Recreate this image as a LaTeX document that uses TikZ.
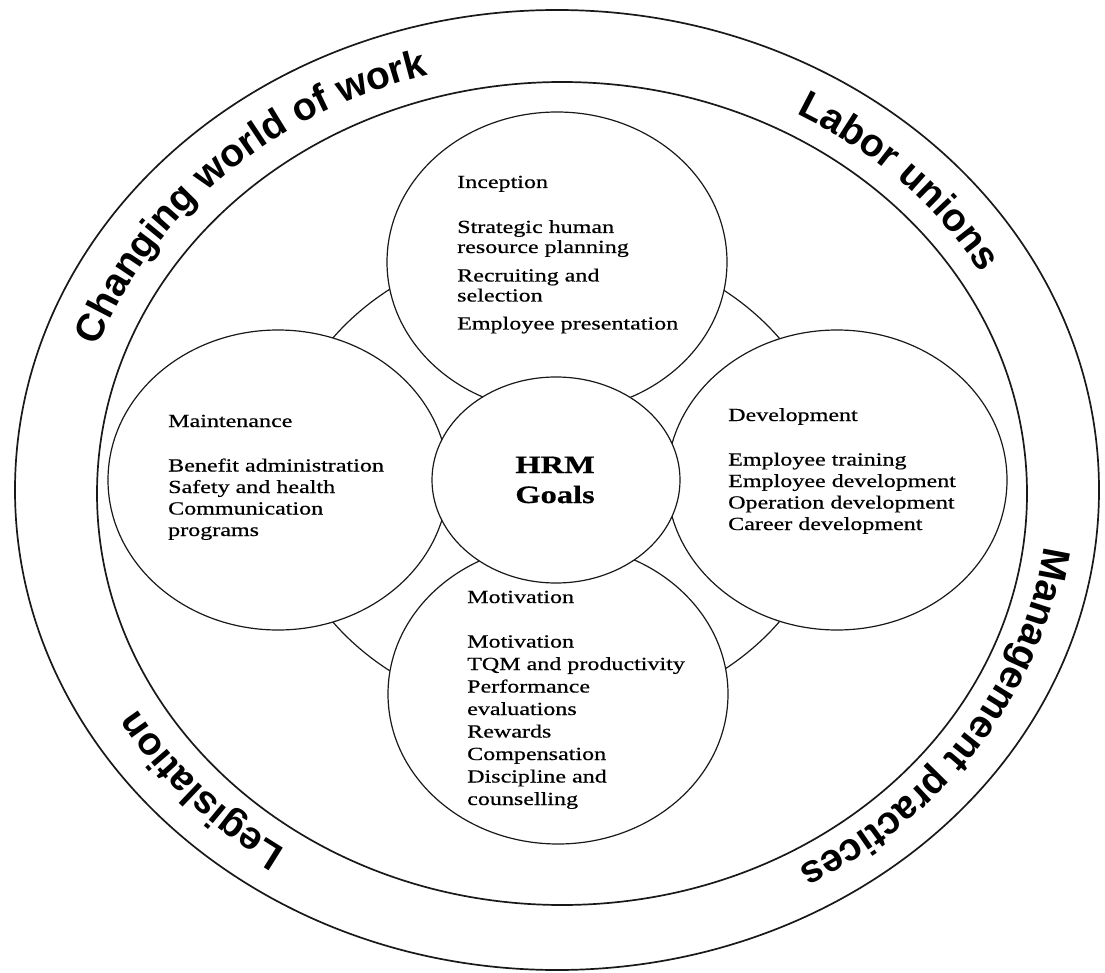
\documentclass[tikz,border=0pt]{standalone}
\usepackage{fontspec}
\setmainfont{Liberation Serif}
\newfontfamily\boxfont[FakeStretch=1.3,FakeBold=0.6]{Liberation Serif}
\newfontfamily\curvefam{Liberation Sans}
\usetikzlibrary{decorations.text,shapes.geometric}
\newcommand{\curvefont}{\fontsize{39}{47}\selectfont\curvefam\bfseries}
\tikzset{
  band/.style={line width=1.7pt, draw=black!90},
  bubble/.style={ellipse, draw=black!90, line width=1.2pt, fill=white, inner sep=0pt},
  itemtext/.style={anchor=base west, inner sep=0pt, font=\boxfont},
  curvelabel/.style={decorate, decoration={text along path, text align=center, text={|\curvefont|#1}}}
}
\begin{document}
\begin{tikzpicture}[x=1pt,y=1pt]
\useasboundingbox (0,0) rectangle (1105,-973);
\fill[white] (0,0) rectangle (1105,-973);
% outer bands
\draw[band] (557,-490) ellipse [x radius=542, y radius=480];
\draw[band] (562,-493.5) ellipse [x radius=465, y radius=411.5];
% ring behind the circles
\draw[black!90, line width=1.2pt] (556,-480) ellipse [x radius=278, y radius=238];
% four circles
\node[bubble, minimum width=340pt, minimum height=300pt] (inc) at (557,-262) {};
\node[bubble, minimum width=340pt, minimum height=300pt] (mai) at (278,-480) {};
\node[bubble, minimum width=340pt, minimum height=300pt] (dev) at (837,-480) {};
\node[bubble, minimum width=340pt, minimum height=300pt] (mot) at (558,-694) {};
% centre
\node[bubble, minimum width=248pt, minimum height=206pt] (hrm) at (556,-480) {};
\node[anchor=base, inner sep=0pt] (hrmtext) at (555,-473)
  {\parbox[t]{200pt}{\centering\fontsize{25}{30}\boxfont\bfseries HRM\\ Goals}};
% texts
\node[itemtext] (inctext) at (457,-188) {\parbox[t]{280pt}{\raggedright\fontsize{18.5}{20}\boxfont
  Inception\\[25pt]
  Strategic human\\ resource planning\\[8.5pt]
  Recruiting and\\ selection\\[8pt]
  Employee presentation}};
\node[itemtext] (devtext) at (728,-421) {\parbox[t]{280pt}{\raggedright\fontsize{18.5}{21.5}\boxfont
  Development\\[23pt]
  Employee training\\ Employee development\\ Operation development\\ Career development}};
\node[itemtext] (maitext) at (168,-427) {\parbox[t]{280pt}{\raggedright\fontsize{18.5}{21.5}\boxfont
  Maintenance\\[23pt]
  Benefit administration\\ Safety and health\\ Communication\\ programs}};
\node[itemtext] (mottext) at (467,-603) {\parbox[t]{280pt}{\raggedright\fontsize{18.5}{22.5}\boxfont
  Motivation\\[22pt]
  Motivation\\ TQM and productivity\\ Performance\\ evaluations\\ Rewards\\ Compensation\\ Discipline and\\ counselling}};
% curved labels
\path[curvelabel={Changing world of work}] ([shift={(559,-491)}]179:489 and 432) arc [start angle=179, end angle=89, x radius=489, y radius=432];
\path[curvelabel={Labor unions}] ([shift={(559,-491)}]75:489 and 432) arc [start angle=75, end angle=15, x radius=489, y radius=432];
\path[curvelabel={Management practices}] ([shift={(559,-491)}]12:489 and 432) arc [start angle=12, end angle=-78, x radius=489, y radius=432];
\path[curvelabel={Legislation}] ([shift={(559,-491)}]252:489 and 432) arc [start angle=252, end angle=193, x radius=489, y radius=432];
\end{tikzpicture}
\end{document}
